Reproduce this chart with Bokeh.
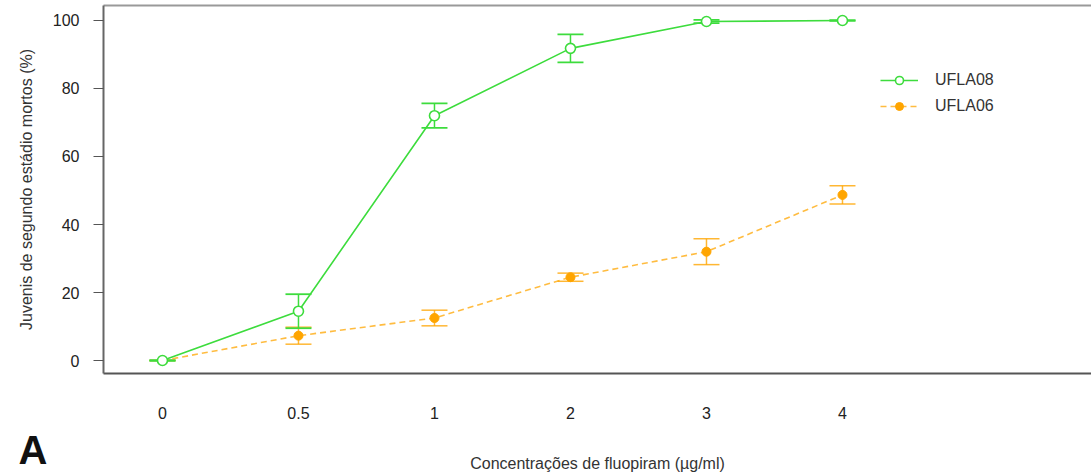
from bokeh.plotting import figure
from bokeh.models import (Range1d, FixedTicker, LinearAxis, Whisker, ColumnDataSource,
                          Legend, LegendItem, Label, TeeHead)
from bokeh.embed import file_html
from bokeh.resources import INLINE

# ---- data ----
conc_labels = ["0", "0.5", "1", "2", "3", "4"]
ufla08_mean = [0.0, 14.5, 72.0, 91.8, 99.7, 100.0]
ufla08_err = [0.0, 5.0, 3.6, 4.1, 0.5, 0.0]
ufla06_mean = [0.0, 7.3, 12.5, 24.5, 32.0, 48.7]
ufla06_err = [0.0, 2.5, 2.3, 1.2, 3.8, 2.7]
y_ticks = [0, 20, 40, 60, 80, 100]

pos = list(range(len(conc_labels)))

GREEN = "#3ddc3d"
ORANGE = "#ffa500"
FONT = "Liberation Sans"

# plotting box (R-style) in data units; the frame spans the whole canvas
X0, X1 = -0.434, 6.83
Y0, Y1 = -3.8, 104.4

p = figure(width=1091, height=475, output_backend="svg", toolbar_location=None,
           x_range=Range1d(-1.191, 6.831), y_range=Range1d(-33.82, 105.88),
           x_axis_location=None, y_axis_location=None,
           min_border_left=0, min_border_top=0, min_border_right=0, min_border_bottom=0)
p.outline_line_color = None
p.grid.visible = False
p.background_fill_color = "white"

# y axis
ya = LinearAxis(fixed_location=X0, bounds=(Y0, Y1), ticker=FixedTicker(ticks=y_ticks))
ya.axis_label = "Juvenis de segundo estádio mortos (%)"
ya.axis_label_text_font = FONT
ya.axis_label_text_font_size = "16px"
ya.axis_label_text_font_style = "normal"
ya.axis_label_text_color = "#333333"
ya.axis_label_standoff = 15
ya.major_label_text_font = FONT
ya.major_label_text_font_size = "16px"
ya.major_label_text_color = "#222222"
ya.major_label_standoff = 14
ya.major_tick_out = 10
ya.major_tick_in = 0
ya.minor_tick_line_color = None
ya.major_tick_line_color = "#555555"
ya.axis_line_color = "#666666"
ya.axis_line_width = 2
p.add_layout(ya, "left")

# x axis
xa = LinearAxis(fixed_location=Y0, bounds=(X0, X1), ticker=FixedTicker(ticks=pos))
xa.major_label_overrides = {i: lab for i, lab in zip(pos, conc_labels)}
xa.axis_label = "Concentrações de fluopiram (µg/ml)"
xa.axis_label_text_font = FONT
xa.axis_label_text_font_size = "16px"
xa.axis_label_text_font_style = "normal"
xa.axis_label_text_color = "#333333"
xa.axis_label_standoff = 32
xa.major_label_text_font = FONT
xa.major_label_text_font_size = "16px"
xa.major_label_text_color = "#222222"
xa.major_label_standoff = 28
xa.major_tick_line_color = None
xa.minor_tick_line_color = None
xa.axis_line_color = "#555555"
xa.axis_line_width = 2
p.add_layout(xa, "below")

# top border line
top = LinearAxis(fixed_location=Y1, bounds=(X0, X1), ticker=FixedTicker(ticks=[]),
                 major_tick_line_color=None, minor_tick_line_color=None,
                 major_label_text_font_size="0px", major_label_standoff=0,
                 axis_line_color="#999999", axis_line_width=2)
p.add_layout(top, "above")

# ---- UFLA06 (orange) ----
src06 = ColumnDataSource(dict(x=pos, y=ufla06_mean,
                              lo=[m - e for m, e in zip(ufla06_mean, ufla06_err)],
                              hi=[m + e for m, e in zip(ufla06_mean, ufla06_err)]))
l06 = p.line("x", "y", source=src06, line_color=ORANGE, line_width=1.6,
             line_dash="6 4", line_alpha=0.75)
w06 = Whisker(source=src06, base="x", lower="lo", upper="hi", line_color=ORANGE,
              line_width=1.5, line_alpha=0.8,
              upper_head=TeeHead(size=26, line_color=ORANGE, line_width=1.5, line_alpha=0.8),
              lower_head=TeeHead(size=26, line_color=ORANGE, line_width=1.5, line_alpha=0.8))
p.add_layout(w06)
s06 = p.scatter("x", "y", source=src06, size=9, marker="circle",
                fill_color=ORANGE, line_color=ORANGE)

# ---- UFLA08 (green) ----
src08 = ColumnDataSource(dict(x=pos, y=ufla08_mean,
                              lo=[m - e for m, e in zip(ufla08_mean, ufla08_err)],
                              hi=[m + e for m, e in zip(ufla08_mean, ufla08_err)]))
l08 = p.line("x", "y", source=src08, line_color=GREEN, line_width=1.6)
w08 = Whisker(source=src08, base="x", lower="lo", upper="hi", line_color=GREEN,
              line_width=1.5,
              upper_head=TeeHead(size=26, line_color=GREEN, line_width=1.8),
              lower_head=TeeHead(size=26, line_color=GREEN, line_width=1.8))
p.add_layout(w08)
s08 = p.scatter("x", "y", source=src08, size=10, marker="circle",
                fill_color="white", line_color=GREEN, line_width=1.6)

legend = Legend(items=[LegendItem(label="UFLA08", renderers=[l08, s08]),
                       LegendItem(label="UFLA06", renderers=[l06, s06])],
                location=(880, 359), border_line_color=None, background_fill_alpha=0,
                label_text_font=FONT, label_text_font_size="16px",
                label_text_color="#333333", glyph_width=38, glyph_height=20,
                spacing=6, label_standoff=17, padding=0, margin=0)
p.add_layout(legend)

p.add_layout(Label(x=18, y=26, x_units="screen", y_units="screen", text="A",
                   text_font=FONT, text_font_size="40px", text_font_style="bold",
                   text_color="#111111", text_baseline="alphabetic"))

open("out.html", "w").write(file_html(p, INLINE))
